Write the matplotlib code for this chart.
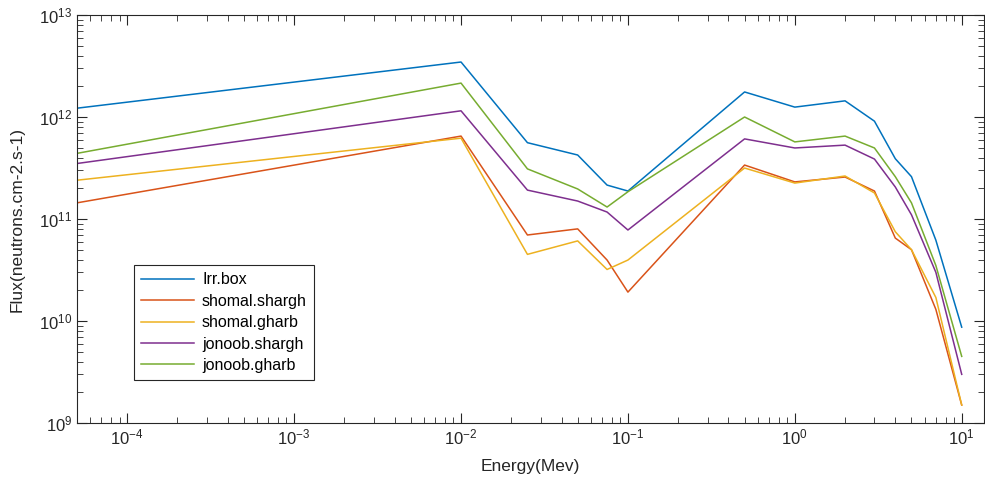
import numpy as np
import matplotlib
matplotlib.use("Agg")
import matplotlib.pyplot as plt
from matplotlib.ticker import LogLocator, NullFormatter

plt.rcParams['font.family'] = ['Liberation Sans', 'DejaVu Sans']
plt.rcParams['mathtext.default'] = 'regular'
plt.rcParams['axes.unicode_minus'] = False

# energy bins (MeV) and flux per position
energy = [5e-5, 0.01, 0.025, 0.05, 0.075, 0.1, 0.5, 1, 2, 3, 4, 5, 7, 10]

irr_box = [1.22e12, 3.46e12, 5.6e11, 4.24e11, 2.15e11, 1.88e11, 1.76e12, 1.25e12,
           1.44e12, 9.1e11, 3.9e11, 2.6e11, 6.2e10, 8.7e9]
shomal_shargh = [1.44e11, 6.5e11, 6.97e10, 8.0e10, 3.96e10, 1.92e10, 3.38e11, 2.31e11,
                 2.58e11, 1.88e11, 6.5e10, 5.0e10, 1.3e10, 1.5e9]
shomal_gharb = [2.4e11, 6.2e11, 4.5e10, 6.1e10, 3.2e10, 3.96e10, 3.16e11, 2.25e11,
                2.64e11, 1.8e11, 7.5e10, 5.0e10, 1.7e10, 1.5e9]
jonoob_shargh = [3.5e11, 1.15e12, 1.92e11, 1.5e11, 1.17e11, 7.8e10, 6.1e11, 4.97e11,
                 5.3e11, 3.87e11, 2.06e11, 1.1e11, 3.0e10, 3.0e9]
jonoob_gharb = [4.4e11, 2.15e12, 3.1e11, 1.97e11, 1.31e11, 1.85e11, 1.0e12, 5.7e11,
                6.5e11, 4.97e11, 2.6e11, 1.44e11, 3.5e10, 4.5e9]

labels = ['Irr.box', 'shomal.shargh', 'shomal.gharb', 'jonoob.shargh', 'jonoob.gharb']
colors = ['#0072BD', '#D95319', '#EDB120', '#7E2F8E', '#77AC30']
series = [irr_box, shomal_shargh, shomal_gharb, jonoob_shargh, jonoob_gharb]

fig = plt.figure(figsize=(9.85, 4.83), dpi=100)
ax = fig.add_axes([77 / 985, 60 / 483, 907 / 985, 408 / 483])

for s, lab, c in zip(series, labels, colors):
    ax.loglog(energy, s, color=c, lw=1.1, label=lab)

ax.set_xlim(5e-5, 13.6)
ax.set_ylim(1e9, 1e13)

ax.xaxis.set_major_locator(LogLocator(base=10, numticks=20))
ax.xaxis.set_minor_locator(LogLocator(base=10, subs=np.arange(2, 10), numticks=20))
ax.yaxis.set_major_locator(LogLocator(base=10, numticks=20))
ax.yaxis.set_minor_locator(LogLocator(base=10, subs=np.arange(2, 10), numticks=20))
ax.xaxis.set_minor_formatter(NullFormatter())
ax.yaxis.set_minor_formatter(NullFormatter())

axcol = '#262626'
for sp in ax.spines.values():
    sp.set_color(axcol)
    sp.set_linewidth(0.8)
ax.tick_params(which='both', direction='in', top=True, right=True,
               colors=axcol, labelsize=12)
ax.tick_params(which='major', length=7, width=0.8)
ax.tick_params(which='minor', length=4, width=0.6)

ax.set_xlabel('Energy(Mev)', fontsize=12.5, color=axcol, labelpad=8)
ax.set_ylabel('Flux(neutrons.cm-2.s-1)', fontsize=12.5, color=axcol, labelpad=10)

leg = ax.legend(loc='lower left', bbox_to_anchor=(0.063, 0.105), borderaxespad=0,
                fontsize=11.5, handlelength=3.3, labelspacing=0.4, fancybox=False,
                framealpha=1, edgecolor=axcol, borderpad=0.45, handletextpad=0.5)
leg.get_frame().set_linewidth(0.8)

fig.savefig('out.png', dpi=100, facecolor='white')
